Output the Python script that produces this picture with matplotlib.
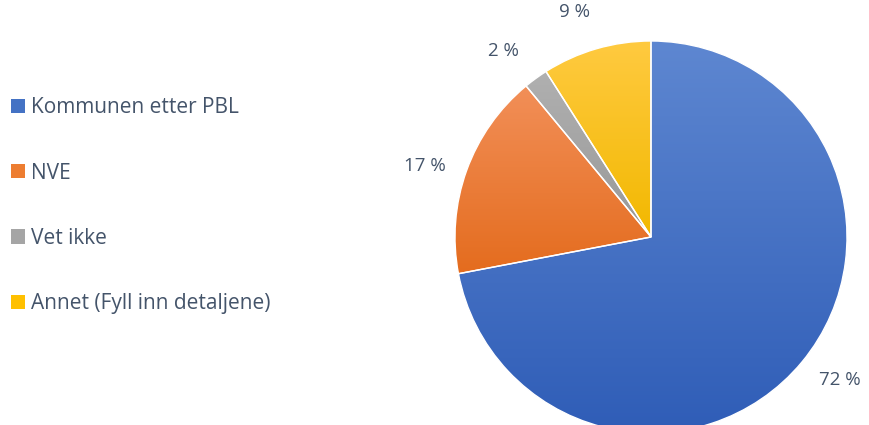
import numpy as np
import matplotlib.pyplot as plt
from matplotlib.colors import LinearSegmentedColormap
from matplotlib.patches import Patch

labels = ['Kommunen etter PBL', 'NVE', 'Vet ikke', 'Annet (Fyll inn detaljene)']
values = [72, 17, 2, 9]
base_colors = ['#4472C4', '#ED7D31', '#A5A5A5', '#FFC000']
top_colors = ['#5E87D1', '#F28F58', '#B0B0B0', '#FFCA40']
bottom_colors = ['#2F5DB7', '#E46C1E', '#989898', '#F2B800']
text_color = '#44546A'

plt.rcParams['font.family'] = ['Open Sans', 'DejaVu Sans']

fig = plt.figure(figsize=(8.69, 4.25), dpi=100)
ax = fig.add_axes([0, 0, 1, 1])
ax.set_xlim(0, 869)
ax.set_ylim(0, 425)
ax.set_aspect('equal')
ax.axis('off')

cx, cy, R = 651, 188, 196
wedges, texts = ax.pie(values, center=(cx, cy), radius=R, startangle=90,
                       counterclock=False, labels=[f'{v} %' for v in values],
                       labeldistance=1.2,
                       wedgeprops=dict(edgecolor='white', linewidth=1),
                       textprops=dict(color=text_color, fontsize=13.5))
ax.set_xlim(0, 869)
ax.set_ylim(0, 425)

# gradient fill inside each slice, lighter at the top
for w, c1, c2 in zip(wedges, top_colors, bottom_colors):
    bb = w.get_path().get_extents(w.get_patch_transform())
    cmap = LinearSegmentedColormap.from_list('g', [c2, c1])
    grad = np.linspace(0, 1, 256).reshape(-1, 1)
    im = ax.imshow(grad, cmap=cmap, origin='lower', aspect='auto',
                   extent=[bb.x0, bb.x1, bb.y0, bb.y1], zorder=w.get_zorder() - 0.1)
    im.set_clip_path(w)
    w.set_facecolor('none')

# labels sit a bit outside the rim, turned slightly ccw like excel puts them
for w, t in zip(wedges, texts):
    t.set_ha('center')
    t.set_va('center')
    ang = np.deg2rad((w.theta1 + w.theta2) / 2 + 2.5)
    rr = R * 1.21
    t.set_position((cx + rr * np.cos(ang), cy + rr * np.sin(ang)))

handles = [Patch(facecolor=c, edgecolor='none') for c in base_colors]
leg = ax.legend(handles, labels, loc='center left', bbox_to_anchor=(-0.009, 0.516),
                frameon=False, fontsize=15, labelcolor=text_color,
                handlelength=0.68, handleheight=0.68, handletextpad=0.3,
                labelspacing=2.13)

fig.savefig('out.png', dpi=100)
